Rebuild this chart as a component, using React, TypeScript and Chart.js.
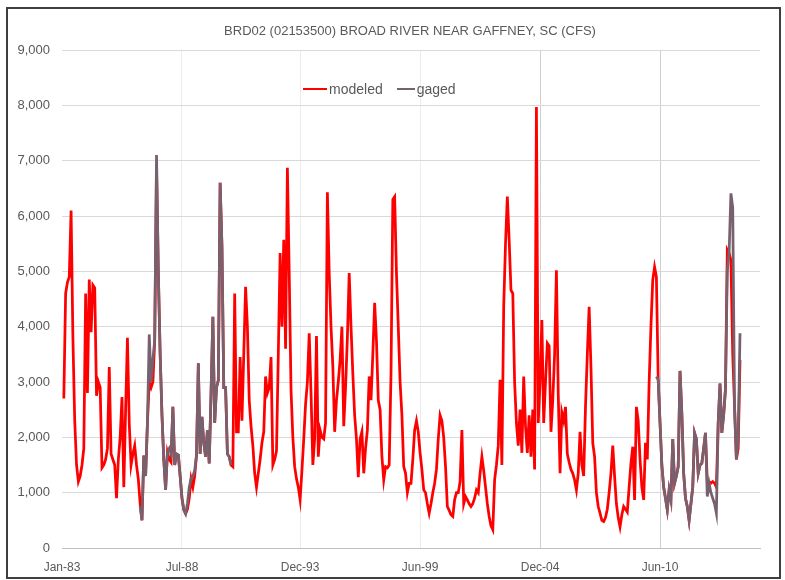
import React, { useEffect, useRef } from 'react';
import { Chart, registerables } from 'chart.js';

Chart.register(...registerables);

const chartTitle = 'BRD02 (02153500) BROAD RIVER NEAR GAFFNEY, SC (CFS)';
const seriesNames = ['modeled', 'gaged'];
const seriesColors = ['#ff0000', '#77616f'];

// monthly values, month index counted from Jan-83 (= 0)
const modeledStartMonth = 1;
const modeled = [
  2700, 4600, 4800, 4900, 6100, 3800, 2300, 1500, 1200, 1300, 1500, 1800,
  4600, 2800, 4850, 3900, 4750, 4700, 2750, 3000, 2900, 1450, 1500, 1600,
  1800, 3270, 1700, 1600, 1500, 900, 1600, 2000, 2730, 1100, 2500, 3800,
  2250, 1500, 1700, 1850, 1500, 1240, 800, 500, 1670, 1300, 2260, 3000,
  2900, 3000, 3750, 6900, 4970, 3500, 2400, 1600, 1050, 1730, 1600, 1550,
  2550, 1500, 1700, 1680, 1300, 900, 690, 620, 700, 900, 1250, 1100,
  1300, 1680, 3340, 1700, 2370, 1900, 1650, 2130, 1530, 2800, 4180, 2260,
  2900, 3030, 6600, 5450, 2900, 2900, 1700, 1650, 1500, 1470, 4600, 2100,
  2100, 3450, 2300, 3500, 4720, 4000, 2670, 2200, 1850, 1350, 1100, 1350,
  1600, 1900, 2100, 3100, 2800, 2900, 3450, 1500, 1600, 1750, 3500, 5330,
  4000, 5570, 3600, 6870, 4970, 2850, 2000, 1470, 1250, 1100, 870, 1400,
  1970, 2600, 3000, 3880, 2800, 1500, 1970, 3830, 1650, 2130, 2000, 1970,
  2260, 6430, 4970, 4000, 3280, 2100, 2670, 3000, 3400, 4000, 2200, 2900,
  3800, 4970, 4000, 3150, 2400, 1970, 1280, 1970, 2100, 1350, 1800, 2130,
  3100, 2670, 3500, 4430, 3750, 2670, 2500, 1650, 1230, 1470, 1450, 1500,
  3150, 6300, 6350, 4970, 4000, 3000, 2400, 1470, 1350, 1000, 1170, 1170,
  1600, 2130, 2300, 2100, 1720, 1420, 1050, 1000, 800, 630, 800, 1000,
  1170, 1420, 1970, 2400, 2300, 2000, 1470, 750, 680, 600, 570, 870,
  1000, 1000, 1200, 2130, 800, 930, 870, 800, 750, 800, 900, 1050,
  1000, 1350, 1650, 1400, 1100, 800, 570, 400, 330, 1230, 1500, 1850,
  3040, 1500, 4360, 5500, 6350, 5570, 4660, 4600, 3000, 2260, 1850, 2500,
  1720, 3100, 2200, 1720, 2400, 1650, 2500, 1420, 7970, 2260, 3000, 4120,
  2260, 3000, 3700, 3650, 2100, 2670, 3500, 5020, 2800, 1350, 2450, 2300,
  2550, 1700, 1550, 1420, 1350, 1230, 1050, 1350, 2100, 1500, 1300, 2550,
  3500, 4360, 3280, 1900, 1650, 1000, 750, 630, 500, 480, 550, 700,
  1000, 1350, 1850, 1300, 800, 550, 380, 600, 750, 700, 650, 1100,
  1530, 1830, 870, 2550, 2300, 1600, 1100, 870, 1900, 1600, 2980, 4000,
  4840, 5080, 4900, 3040, 2260, 1500, 1100, 900, 690, 1050, 870, 1970,
  1170, 1300, 1470, 3200, 2430, 1350, 900, 750, 500, 800, 1100, 2080,
  1970, 1350, 1500, 1530, 1800, 2080, 1200, 1200, 1170, 1200, 1170, 1100,
  2260, 2970, 2080, 2400, 2870, 5390, 5330, 5200, 3500, 2550, 1600, 1800, 3400,
];

const gagedStartA = 43;
const gagedA = [
  750, 500, 1670, 1300, 2260, 3860, 3000, 3400, 3750, 7100, 4970, 3500,
  2400, 1600, 1050, 1730, 1800, 1700, 2550, 1500, 1700, 1680, 1300, 900,
  690, 620, 800, 1100, 1250, 1300, 1400, 1680, 3340, 1700, 2370, 1900,
  1650, 2130, 1530, 2800, 4180, 2260, 2900, 3030, 6600, 5450, 2900, 2900,
  1700, 1650, 1500,
];

const gagedStartB = 327;
const gagedB = [
  3100, 3040, 2260, 1500, 1100, 900, 690, 1050, 870, 1970, 1170, 1300,
  1470, 3200, 2430, 1350, 900, 750, 500, 800, 1100, 2080, 1970, 1350,
  1500, 1530, 1800, 2080, 930, 1170, 1000, 900, 800, 630, 2260, 2970,
  2080, 2400, 2870, 5000, 5330, 6410, 6150, 2550, 1600, 1970, 3880,
];

const xTickMonths = [0, 66, 131, 197, 263, 329];
const xTickLabels = ['Jan-83', 'Jul-88', 'Dec-93', 'Jun-99', 'Dec-04', 'Jun-10'];
const xStrongGridMonths = [263, 329];
const xMaxMonth = 384;
const yTicks = [0, 1000, 2000, 3000, 4000, 5000, 6000, 7000, 8000, 9000];

const FONT = "'Liberation Sans', Arial, sans-serif";
const TEXT_COLOR = '#595959';

export default function App() {
  const canvasRef = useRef<HTMLCanvasElement | null>(null);

  useEffect(() => {
    document.body.style.margin = '0';
    const canvas = canvasRef.current;
    if (!canvas) return;

    const modeledPts = modeled.map((v, i) => ({ x: modeledStartMonth + i, y: v }));
    const gagedPts: { x: number; y: number | null }[] = [
      ...gagedA.map((v, i) => ({ x: gagedStartA + i, y: v })),
      { x: gagedStartA + gagedA.length, y: null },
      ...gagedB.map((v, i) => ({ x: gagedStartB + i, y: v })),
    ];

    const chart = new Chart(canvas, {
      type: 'line',
      data: {
        datasets: [
          {
            label: seriesNames[0],
            data: modeledPts,
            borderColor: seriesColors[0],
            backgroundColor: seriesColors[0],
            borderWidth: 2.75,
            pointRadius: 0,
            tension: 0,
            order: 1,
          },
          {
            label: seriesNames[1],
            data: gagedPts as any,
            borderColor: seriesColors[1],
            backgroundColor: seriesColors[1],
            borderWidth: 2.75,
            pointRadius: 0,
            tension: 0,
            spanGaps: false,
            order: 0,
          },
        ],
      },
      options: {
        animation: false,
        responsive: false,
        maintainAspectRatio: false,
        layout: { padding: { left: 0, right: 25, top: 50, bottom: 0 } },
        plugins: {
          legend: { display: false },
          tooltip: { enabled: false },
          title: { display: false },
        },
        scales: {
          x: {
            type: 'linear',
            min: 0,
            max: xMaxMonth,
            afterBuildTicks: (s: any) => {
              s.ticks = xTickMonths.map((v) => ({ value: v }));
            },
            afterFit: (s: any) => {
              s.height = 32;
              s.paddingLeft = 0;
              s.paddingRight = 0;
            },
            ticks: {
              autoSkip: false,
              maxRotation: 0,
              padding: 12,
              color: TEXT_COLOR,
              font: { family: FONT, size: 12 },
              callback: (v: any) => {
                const k = xTickMonths.indexOf(Number(v));
                return k >= 0 ? xTickLabels[k] : '';
              },
            },
            grid: {
              drawTicks: false,
              color: (ctx: any) => {
                const v = ctx.tick ? ctx.tick.value : -1;
                if (v === 0) return 'rgba(0,0,0,0)';
                return xStrongGridMonths.includes(v) ? '#cfcfcf' : '#ececec';
              },
            },
            border: { display: true, color: '#bfbfbf', width: 1 },
          },
          y: {
            min: 0,
            max: 9000,
            afterBuildTicks: (s: any) => {
              s.ticks = yTicks.map((v) => ({ value: v }));
            },
            afterFit: (s: any) => {
              s.width = 62;
            },
            ticks: {
              padding: 12,
              color: TEXT_COLOR,
              font: { family: FONT, size: 13 },
              callback: (v: any) => Number(v).toLocaleString('en-US'),
            },
            grid: { drawTicks: false, color: '#d9d9d9' },
            border: { display: false },
          },
        },
      },
    });

    return () => chart.destroy();
  }, []);

  return (
    <div style={{ position: 'relative', width: 785, height: 580, background: '#ffffff', overflow: 'hidden' }}>
      <canvas ref={canvasRef} width={785} height={580} style={{ display: 'block' }} />
      <div
        style={{
          position: 'absolute',
          left: 200,
          top: 23,
          width: 420,
          textAlign: 'center',
          fontFamily: FONT,
          fontSize: 13,
          lineHeight: '16px',
          color: TEXT_COLOR,
          whiteSpace: 'nowrap',
        }}
      >
        {chartTitle}
      </div>
      <div
        style={{
          position: 'absolute',
          left: 303,
          top: 81,
          display: 'flex',
          alignItems: 'center',
          fontFamily: FONT,
          fontSize: 14,
          color: TEXT_COLOR,
          whiteSpace: 'nowrap',
        }}
      >
        {seriesNames.map((name, k) => (
          <div key={name} style={{ display: 'flex', alignItems: 'center', marginLeft: k === 0 ? 0 : 14 }}>
            <span style={{ display: 'inline-block', width: k === 0 ? 24 : 18, height: 2.5, background: seriesColors[k] }} />
            <span style={{ marginLeft: 2 }}>{name}</span>
          </div>
        ))}
      </div>
      <div
        style={{
          position: 'absolute',
          left: 6,
          top: 7,
          width: 775,
          height: 572,
          boxSizing: 'border-box',
          border: '2px solid #3f3f3f',
          pointerEvents: 'none',
        }}
      />
    </div>
  );
}
